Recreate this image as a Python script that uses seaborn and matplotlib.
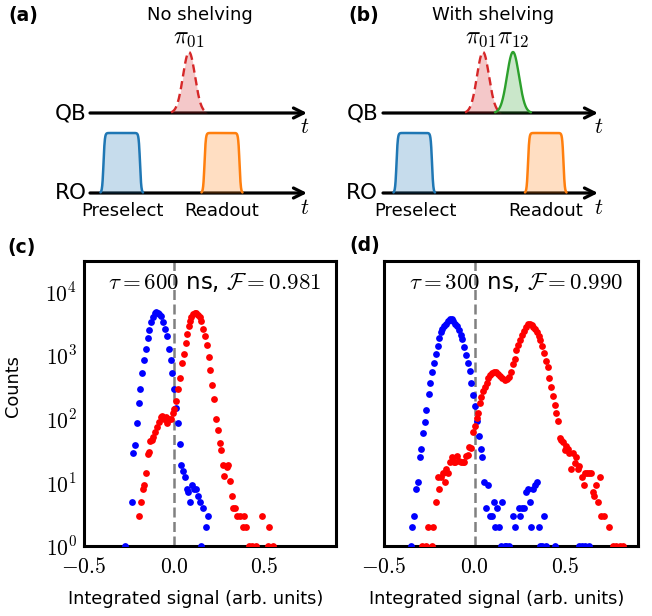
import numpy as np
import matplotlib
matplotlib.use("Agg")
import matplotlib.pyplot as plt
import seaborn as sns
from matplotlib.ticker import FuncFormatter, LogLocator, NullFormatter

# ---------------- data: panel (c), tau = 600 ns ----------------
blue_c_x = [-0.270, -0.236, -0.227, -0.218, -0.207, -0.196, -0.187, -0.176, -0.167, -0.158,
            -0.147, -0.137, -0.128, -0.117, -0.108, -0.099, -0.090, -0.081, -0.071, -0.060,
            -0.049, -0.038, -0.027, -0.018, -0.009, 0.000, 0.009, 0.020, 0.031, 0.040,
            0.049, 0.060, 0.070, 0.079, 0.090, 0.100, 0.112, 0.122, 0.133, 0.142,
            0.152, 0.160, 0.180, 0.190]
blue_c_y = [1, 5, 29, 39, 87, 174, 288, 513, 830, 1260,
            1880, 2460, 3310, 3900, 4500, 4700, 4600, 4370, 4100, 3310,
            2600, 2000, 1250, 850, 527, 288, 145, 85, 40, 19,
            15, 12, 8, 7, 5, 9, 8, 8, 6, 5,
            1, 4, 2, 3]
red_c_x = [-0.196, -0.185, -0.174, -0.167, -0.156, -0.145, -0.139, -0.132, -0.123, -0.114,
           -0.104, -0.093, -0.084, -0.075, -0.064, -0.055, -0.046, -0.037, -0.026, -0.015,
           -0.007, 0.002, 0.013, 0.022, 0.033, 0.042, 0.053, 0.064, 0.073, 0.081,
           0.088, 0.097, 0.106, 0.114, 0.123, 0.132, 0.142, 0.152, 0.163, 0.172,
           0.183, 0.192, 0.201, 0.212, 0.222, 0.231, 0.242, 0.253, 0.262, 0.271,
           0.280, 0.293, 0.302, 0.311, 0.320, 0.330, 0.341, 0.350, 0.366, 0.381,
           0.390, 0.400, 0.418, 0.436, 0.454, 0.491, 0.520, 0.529, 0.550]
red_c_y = [3, 5, 8, 9, 14, 28, 30, 44, 46, 52,
           61, 73, 88, 107, 112, 100, 105, 86, 98, 100,
           121, 142, 190, 290, 440, 740, 1020, 1560, 2170, 2900,
           3450, 3960, 4370, 4580, 4580, 4300, 3900, 3400, 2600, 1960,
           1420, 930, 590, 335, 205, 100, 66, 42, 32, 19,
           12.6, 17.5, 19, 10.6, 6, 4, 4, 3, 3, 2,
           3, 2, 1, 1, 1, 3, 1, 2, 1]

# ---------------- data: panel (d), tau = 300 ns ----------------
blue_d_x = [-0.353, -0.344, -0.335, -0.324, -0.315, -0.304, -0.295, -0.284, -0.275, -0.266,
            -0.254, -0.245, -0.235, -0.225, -0.214, -0.205, -0.198, -0.187, -0.178, -0.169,
            -0.159, -0.148, -0.137, -0.126, -0.117, -0.108, -0.099, -0.088, -0.077, -0.068,
            -0.059, -0.048, -0.038, -0.027, -0.018, -0.009, 0.000, 0.013, 0.024, 0.033,
            0.042, 0.051, 0.064, 0.073, 0.084, 0.093, 0.104, 0.113, 0.123, 0.132,
            0.143, 0.153, 0.165, 0.175, 0.190, 0.210, 0.222, 0.242, 0.251, 0.262,
            0.272, 0.282, 0.292, 0.302, 0.311, 0.320, 0.331, 0.342, 0.352, 0.362,
            0.370, 0.381, 0.392, 0.445, 0.575, 0.590, 0.610, 0.630]
blue_d_y = [1, 2, 3, 8, 10, 25, 34, 59, 89, 136,
            243, 370, 550, 755, 1030, 1390, 1820, 2270, 2570, 2830,
            3120, 3390, 3630, 3630, 3450, 3120, 2830, 2500, 2100, 1770,
            1360, 1000, 760, 560, 365, 235, 158, 92, 53, 34,
            25, 10, 4, 9, 3, 3, 5, 2, 4, 2,
            1, 5, 1, 1, 1, 3, 2, 4, 3, 4,
            4, 7, 8, 5, 2, 8, 9, 10, 2, 1,
            1, 3, 1, 1, 1, 1, 1, 1]
red_d_x = [-0.293, -0.270, -0.256, -0.238, -0.229, -0.216, -0.205, -0.196, -0.185, -0.176,
           -0.166, -0.156, -0.147, -0.136, -0.126, -0.116, -0.106, -0.097, -0.087, -0.077,
           -0.067, -0.058, -0.048, -0.038, -0.029, -0.020, -0.009, 0.000, 0.010, 0.019,
           0.028, 0.037, 0.046, 0.056, 0.065, 0.075, 0.086, 0.097, 0.108, 0.118,
           0.128, 0.140, 0.152, 0.165, 0.178, 0.188, 0.201, 0.210, 0.220, 0.229,
           0.240, 0.249, 0.258, 0.269, 0.280, 0.293, 0.306, 0.313, 0.321, 0.331,
           0.342, 0.352, 0.361, 0.370, 0.381, 0.392, 0.403, 0.412, 0.421, 0.430,
           0.440, 0.449, 0.460, 0.469, 0.478, 0.487, 0.495, 0.504, 0.513, 0.522,
           0.531, 0.540, 0.550, 0.559, 0.570, 0.577, 0.590, 0.600, 0.608, 0.619,
           0.630, 0.641, 0.650, 0.660, 0.668, 0.677, 0.690, 0.696, 0.714, 0.738,
           0.760, 0.780, 0.800, 0.815]
red_d_y = [1, 1, 2, 1, 2, 5, 12, 8, 12, 14,
           10, 16, 14, 21, 25, 21, 21, 26, 22, 21,
           21, 21, 26, 27, 36, 35, 61, 77, 104, 124,
           174, 220, 275, 310, 366, 430, 485, 530, 550, 540,
           500, 470, 440, 405, 415, 455, 545, 720, 880, 1190,
           1450, 1750, 2040, 2400, 2800, 3040, 3050, 3000, 2780, 2520,
           2300, 2000, 1700, 1390, 1090, 810, 640, 430, 310, 225,
           163, 121, 92, 50, 47, 43, 32, 37, 34, 29,
           16, 29, 20, 25, 16, 18, 12, 9, 14, 14,
           14, 14, 7, 6, 9, 5, 12, 3, 3, 2,
           1, 1, 1, 1]

panel_notes = [r"$\tau = 600$ ns, $\mathcal{F} = 0.981$",
               r"$\tau = 300$ ns, $\mathcal{F} = 0.990$"]
xtick_vals = [-0.5, 0.0, 0.5]

# ---------------- pulse-sequence schematic parameters (local pixel frame) ----------------
diag_titles = ["No shelving", "With shelving"]
diag_pulse_labels = [r"$\pi_{01}$", r"$\pi_{01}\pi_{12}$"]
gauss_centers = [[189], [157, 187]]
gauss_colors = [["tab:red"], ["tab:red", "tab:green"]]
gauss_dashed = [[True], [True, False]]
trap_edges = [[(103.5, 140.0), (204.5, 239.5)], [(70.5, 106.0), (202.0, 237.5)]]
trap_colors = ["tab:blue", "tab:orange"]
arrow_span = [(90, 307), (57, 272)]
label_right = [87, 52]
text_centers = [dict(title=200, pi=189, pre=122, read=222, t=305),
                dict(title=167, pi=171, pre=89, read=220, t=273)]

sns.set_style("white")
plt.rcParams["font.family"] = ["DejaVu Sans"]
plt.rcParams["mathtext.fontset"] = "cm"
for k in ["text.color", "axes.labelcolor", "xtick.color", "ytick.color", "axes.edgecolor"]:
    plt.rcParams[k] = "black"

W, H = 652, 616
fig = plt.figure(figsize=(W / 100, H / 100), dpi=100)


def fx(p):
    return p / W


def fy(p):
    return 1 - p / H


QB_Y, RO_Y = 113, 193
G_H, T_H, SIG, RAMP = 61, 60, 6.0, 1.3

for i in range(2):
    x0 = 0 if i == 0 else 326
    ax = fig.add_axes([fx(x0), fy(230), fx(326), 230 / H])
    ax.set_xlim(0, 326)
    ax.set_ylim(230, 0)
    ax.axis("off")
    a0, a1 = arrow_span[i]
    for yb in (QB_Y, RO_Y):
        ax.annotate("", xy=(a1, yb), xytext=(a0, yb),
                    arrowprops=dict(arrowstyle="->", lw=2.3, color="k",
                                    mutation_scale=18, shrinkA=0, shrinkB=0))
    for c, col, dsh in zip(gauss_centers[i], gauss_colors[i], gauss_dashed[i]):
        t = np.linspace(c - 3 * SIG, c + 3 * SIG, 200)
        y = QB_Y - G_H * np.exp(-(t - c) ** 2 / (2 * SIG ** 2))
        ax.fill_between(t, QB_Y, y, color=col, alpha=0.25, lw=0, zorder=3)
        ax.plot(t, y, color=col, lw=1.7, ls=(0, (3.5, 2)) if dsh else "-", zorder=4)
    for (e0, e1), col in zip(trap_edges[i], trap_colors):
        t = np.linspace(e0 - 3, e1 + 3, 300)
        y = RO_Y - T_H * 0.5 * (np.tanh((t - e0) / RAMP) - np.tanh((t - e1) / RAMP))
        ax.fill_between(t, RO_Y, y, color=col, alpha=0.25, lw=0, zorder=3)
        ax.plot(t, y, color=col, lw=1.8, zorder=4)
    tc = text_centers[i]
    ax.text(tc["title"], 15, diag_titles[i], ha="center", va="center", fontsize=13)
    ax.text(tc["pi"], 37, diag_pulse_labels[i], ha="center", va="center", fontsize=17.5)
    ax.text(label_right[i], QB_Y, "QB", ha="right", va="center", fontsize=15.5)
    ax.text(label_right[i], RO_Y, "RO", ha="right", va="center", fontsize=15.5)
    ax.text(tc["pre"], 211, "Preselect", ha="center", va="center", fontsize=13)
    ax.text(tc["read"], 211, "Readout", ha="center", va="center", fontsize=13)
    ax.text(tc["t"], 127, r"$t$", ha="center", va="center", fontsize=16)
    ax.text(tc["t"], 208, r"$t$", ha="center", va="center", fontsize=16)

# ---------------- histogram panels ----------------
series = [(blue_c_x, blue_c_y, red_c_x, red_c_y), (blue_d_x, blue_d_y, red_d_x, red_d_y)]
lefts = [84, 384]
widths = [252, 254]
for i in range(2):
    ax = fig.add_axes([fx(lefts[i]), fy(546), fx(widths[i]), 285 / H])
    bx, by, rx, ry = series[i]
    ax.set_yscale("log")
    sns.scatterplot(x=bx, y=by, color="blue", s=24, linewidth=0, ax=ax, zorder=3)
    sns.scatterplot(x=rx, y=ry, color="red", s=24, linewidth=0, ax=ax, zorder=3)
    ax.axvline(0, color="grey", lw=1.8, ls=(0, (4, 1.8)), zorder=2)
    ax.set_xlim(-0.5, 0.9)
    ax.set_ylim(1, 3e4)
    ax.set_xticks(xtick_vals)
    ax.xaxis.set_major_formatter(FuncFormatter(lambda v, p: r"$%.1f$" % v))
    ax.yaxis.set_major_locator(LogLocator(base=10, numticks=10))
    ax.yaxis.set_minor_locator(LogLocator(base=10, subs=np.arange(2, 10), numticks=20))
    ax.yaxis.set_minor_formatter(NullFormatter())
    ax.yaxis.set_major_formatter(FuncFormatter(lambda v, p: r"$10^{%d}$" % int(round(np.log10(v)))))
    ax.tick_params(which="major", direction="in", length=6, width=1.6, top=False, right=False,
                   labelsize=15.5, pad=5)
    ax.tick_params(axis="x", which="major", pad=8)
    ax.tick_params(which="minor", direction="in", length=3.5, width=1.0, top=False, right=False)
    ax.tick_params(axis="x", which="minor", bottom=False)
    for sp in ax.spines.values():
        sp.set_linewidth(2.2)
        sp.set_color("black")
    ax.set_xlabel("Integrated signal (arb. units)", fontsize=12.8)
    ax.xaxis.set_label_coords(0.445, -0.155)
    if i == 0:
        ax.set_ylabel("Counts", fontsize=12.8)
        ax.yaxis.set_label_coords(-0.245, 0.56)
    else:
        ax.tick_params(labelleft=False)
    ax.text(0.52, 0.923, panel_notes[i], transform=ax.transAxes, ha="center", va="center",
            fontsize=16.5)

for lab, px, py in [("(a)", 8, 16), ("(b)", 348, 16), ("(c)", 7, 247), ("(d)", 349, 246)]:
    fig.text(fx(px), fy(py), lab, ha="left", va="center", fontsize=13.5, fontweight="bold")

fig.savefig("out.png", dpi=100)
